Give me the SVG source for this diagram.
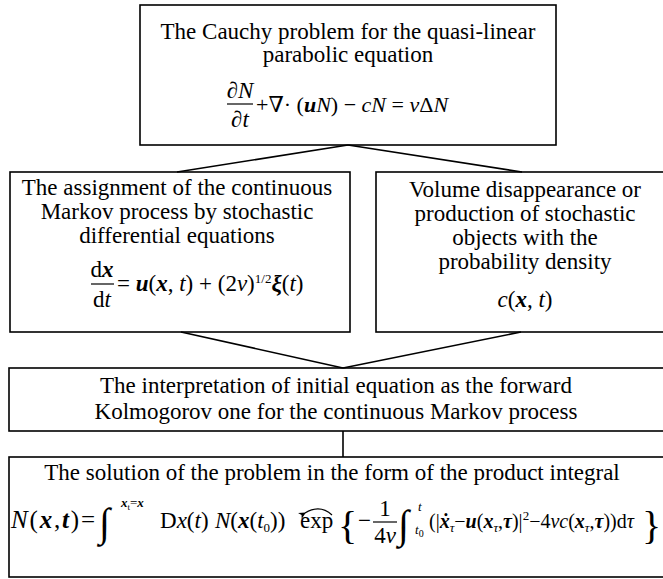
<svg xmlns="http://www.w3.org/2000/svg" width="663" height="579" viewBox="0 0 663 579">
<style>
.box{fill:none;stroke:#000;stroke-width:1.6}
.t{font-family:"Liberation Serif","DejaVu Serif",serif;font-size:23px;fill:#000}
.c{text-anchor:middle}
.i{font-style:italic}
.b{font-style:italic;font-weight:bold}
.s{font-size:13px}
.big{font-size:40px}
.bar{stroke:#000;stroke-width:1.2}
#connectors line{stroke:#000;stroke-width:1.6}
</style>
<defs>
<marker id="ah" markerWidth="8" markerHeight="8" refX="1" refY="4" orient="auto-start-reverse" markerUnits="userSpaceOnUse">
<path d="M0,4 L7,0.5 L5,4 L7,7.5 Z" fill="#000"/>
</marker>
</defs>
<rect width="663" height="579" fill="#fff"/>

<g id="connectors">
<line x1="348" y1="145" x2="177" y2="172"/>
<line x1="348" y1="145" x2="522" y2="172"/>
<line x1="181" y1="332" x2="343" y2="368"/>
<line x1="521" y1="332" x2="343" y2="368"/>
<line x1="343" y1="431" x2="343" y2="457"/>
</g>

<g id="cauchy">
<rect class="box" x="140" y="5" width="416" height="140"/>
<text class="t c" x="348" y="39">The Cauchy problem for the quasi-linear</text>
<text class="t c" x="348" y="62">parabolic equation</text>
<text class="t c" x="240" y="98">∂<tspan class="i">N</tspan></text>
<line class="bar" x1="227" y1="104" x2="253" y2="104"/>
<text class="t c" x="240" y="127">∂<tspan class="i">t</tspan></text>
<text class="t" x="256" y="112" style="font-size:22px">+∇· (<tspan class="b">u</tspan><tspan class="i">N</tspan>) − <tspan class="i">cN</tspan> = <tspan class="i">ν</tspan>Δ<tspan class="i">N</tspan></text>
</g>

<g id="markov">
<rect class="box" x="10" y="172" width="340" height="160"/>
<text class="t c" x="177" y="195">The assignment of the continuous</text>
<text class="t c" x="177" y="219">Markov process by stochastic</text>
<text class="t c" x="177" y="243">differential equations</text>
<text class="t c" x="102" y="277">d<tspan class="b">x</tspan></text>
<line class="bar" x1="91" y1="284" x2="114" y2="284"/>
<text class="t c" x="102" y="307">d<tspan class="i">t</tspan></text>
<text class="t" x="117" y="291">= <tspan class="b">u</tspan>(<tspan class="b">x</tspan>, <tspan class="i">t</tspan>) + (2<tspan class="i">ν</tspan>)<tspan class="s" dy="-8">1/2</tspan><tspan class="b" dy="8">ξ</tspan>(<tspan class="i">t</tspan>)</text>
</g>

<g id="volume">
<rect class="box" x="376" y="172" width="300" height="160"/>
<text class="t c" x="525" y="197">Volume disappearance or</text>
<text class="t c" x="525" y="221">production of stochastic</text>
<text class="t c" x="525" y="245">objects with the</text>
<text class="t c" x="525" y="269">probability density</text>
<text class="t c" x="525" y="307"><tspan class="i">c</tspan>(<tspan class="b">x</tspan>, <tspan class="i">t</tspan>)</text>
</g>

<g id="interpretation">
<rect class="box" x="9" y="368" width="670" height="63"/>
<text class="t c" x="336" y="393">The interpretation of initial equation as the forward</text>
<text class="t c" x="336" y="419">Kolmogorov one for the continuous Markov process</text>
</g>

<g id="solution">
<rect class="box" x="9" y="457" width="670" height="120"/>
<text class="t c" x="332" y="480">The solution of the problem in the form of the product integral</text>
<text class="t" x="11" y="528" style="font-size:25px" textLength="84" lengthAdjust="spacing"><tspan class="i">N</tspan>(<tspan class="b">x</tspan>,<tspan class="b">t</tspan>)=</text>
<text class="t big" x="99" y="536">∫</text>
<text class="t s" x="121" y="507"><tspan class="b">x</tspan><tspan dy="3" style="font-size:9px">t</tspan><tspan dy="-3">=</tspan><tspan class="b">x</tspan></text>
<text class="t" x="160" y="528">D<tspan class="i">x</tspan>(<tspan class="i">t</tspan>)</text>
<text class="t" x="215" y="528"><tspan class="i">N</tspan>(<tspan class="b">x</tspan>(<tspan class="i">t</tspan><tspan class="s" dy="4">0</tspan><tspan dy="-4">))</tspan></text>
<text class="t" x="300" y="528">exp</text>
<path d="M332,515 Q320,504 305,513" fill="none" stroke="#000" stroke-width="1.2" marker-end="url(#ah)"/>
<text class="t big" x="338" y="539">{</text>
<text class="t" x="358" y="528">−</text>
<text class="t c" x="385" y="516">1</text>
<line class="bar" x1="373" y1="522" x2="397" y2="522"/>
<text class="t c" x="385" y="543">4<tspan class="i">ν</tspan></text>
<text class="t big" x="398" y="538">∫</text>
<text class="t s i" x="418" y="511">t</text>
<text class="t s" x="415" y="534"><tspan class="i">t</tspan><tspan dy="3" style="font-size:10px">0</tspan></text>
<text class="t" x="429" y="528" style="font-size:20px">(|<tspan class="b">ẋ</tspan><tspan class="s i" dy="4">τ</tspan><tspan dy="-4">−</tspan><tspan class="b">u</tspan>(<tspan class="b">x</tspan><tspan class="s i" dy="4">τ</tspan><tspan dy="-4">,</tspan><tspan class="b">τ</tspan>)|<tspan class="s" dy="-8">2</tspan><tspan dy="8">−4</tspan><tspan class="i">νc</tspan>(<tspan class="b">x</tspan><tspan class="s i" dy="4">τ</tspan><tspan dy="-4">,</tspan><tspan class="b">τ</tspan>))d<tspan class="i">τ</tspan></text>
<text class="t big" x="642" y="539">}</text>
</g>
</svg>
